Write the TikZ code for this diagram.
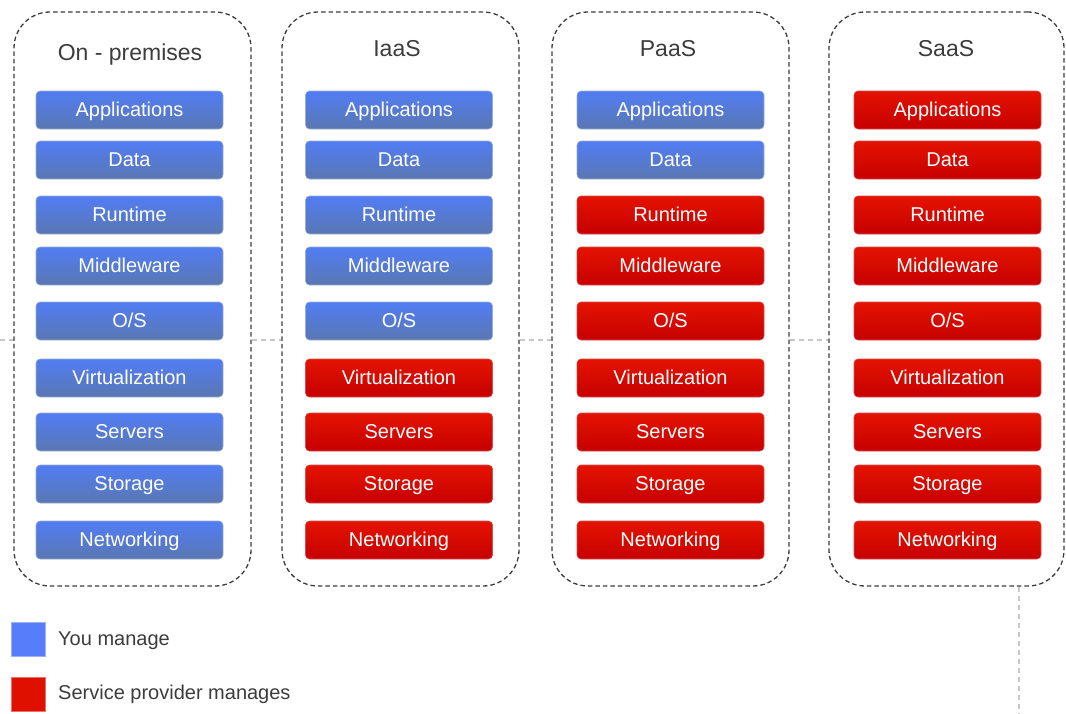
\documentclass[tikz,border=0pt]{standalone}
\usepackage{fontspec}
\setmainfont{Liberation Sans}
\definecolor{bluetop}{HTML}{517DF4}
\definecolor{bluebot}{HTML}{5A77B2}
\definecolor{redtop}{HTML}{E41300}
\definecolor{redbot}{HTML}{C60000}
\definecolor{bluelg}{HTML}{587DFB}
\definecolor{redlg}{HTML}{E01000}
\definecolor{ttl}{HTML}{3C3C3C}
\tikzset{
  layer/.style={minimum width=187pt, minimum height=38pt, rounded corners=4pt, text=white,
    font=\fontsize{20}{24}\selectfont, inner sep=0pt, line width=0.6pt,
    text height=14.5pt, text depth=2.5pt},
  you/.style={layer, top color=bluetop, bottom color=bluebot, draw=bluebot!60!white},
  prov/.style={layer, top color=redtop, bottom color=redbot, draw=redbot!70!white},
  container/.style={draw=ttl, dashed, dash pattern=on 4.5pt off 3pt, line width=1.3pt,
    rounded corners=36pt, minimum height=574pt, inner sep=0pt},
  ttlstyle/.style={text=ttl, font=\fontsize{23}{28}\selectfont, inner sep=0pt,
    text height=17pt, text depth=3pt},
  link/.style={draw=black!22, dash pattern=on 5pt off 4pt, line width=1.3pt},
  legbox/.style={minimum width=34pt, minimum height=34pt, inner sep=0pt},
  legtext/.style={text=ttl, font=\fontsize{20}{24}\selectfont, inner sep=0pt, anchor=west,
    text height=14.5pt, text depth=2.5pt}
}
\begin{document}
\begin{tikzpicture}[x=1pt,y=-1pt]
\useasboundingbox (0,0) rectangle (1066,713);
% containers
\node[container, minimum width=237pt] (c1) at (132.5,299) {};
\node[container, minimum width=237pt] (c2) at (400.5,299) {};
\node[container, minimum width=237pt] (c3) at (670.5,299) {};
\node[container, minimum width=235pt] (c4) at (946.5,299) {};
% titles
\node[ttlstyle] (t1) at (130,53) {On - premises};
\node[ttlstyle] (t2) at (397,49) {IaaS};
\node[ttlstyle] (t3) at (668,49) {PaaS};
\node[ttlstyle] (t4) at (946,49) {SaaS};
% layers
\foreach \col/\cx/\th in {1/129.5/10, 2/399/6, 3/670.5/3, 4/947.5/1}{
  \foreach \row/\cy/\lab in {1/110/Applications, 2/160/Data, 3/215/Runtime, 4/266/Middleware,
      5/321/O\slash S, 6/378/Virtualization, 7/432/Servers, 8/484/Storage, 9/540/Networking}{
    \ifnum\row<\th
      \node[you] (b-\col-\row) at (\cx,\cy) {\lab};
    \else
      \node[prov] (b-\col-\row) at (\cx,\cy) {\lab};
    \fi
  }
}
% connectors
\coordinate (lft) at (0,340);
\coordinate (bot) at (1019,713);
\draw[link] (lft) -- (lft -| c1.west);
\draw[link] (c1.east |- lft) -- (c2.west |- lft);
\draw[link] (c2.east |- lft) -- (c3.west |- lft);
\draw[link] (c3.east |- lft) -- (c4.west |- lft);
\draw[link] (bot |- c4.south) -- (bot);
% legend
\node[legbox, fill=bluelg, draw=bluelg!60!white, line width=0.6pt] (l1) at (28,639) {};
\node[legtext] (lt1) at (58,639) {You manage};
\node[legbox, fill=redlg, draw=redlg!60!white, line width=0.6pt] (l2) at (28,694) {};
\node[legtext] (lt2) at (58,693) {Service provider manages};
\end{tikzpicture}
\end{document}
